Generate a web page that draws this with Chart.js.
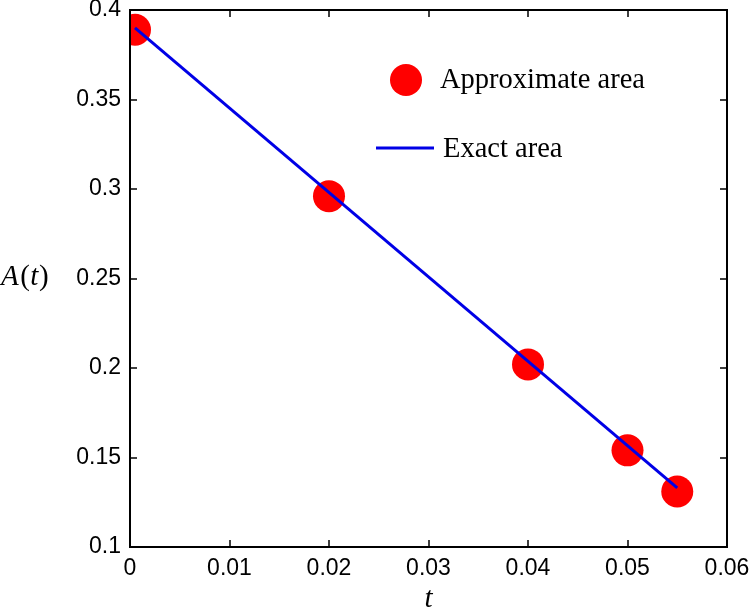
<!DOCTYPE html>
<html>
<head>
<meta charset="utf-8">
<script src="https://cdn.jsdelivr.net/npm/chart.js@4/dist/chart.umd.min.js"></script>
<style>
html,body{margin:0;padding:0;background:#fff;}
#wrap{width:751px;height:613px;}
</style>
</head>
<body>
<div id="wrap"><canvas id="c" width="751" height="613"></canvas></div>
<script>
// Data
const approxT = [0.0005, 0.02, 0.04, 0.05, 0.055];
const approxA = [0.389, 0.296, 0.202, 0.154, 0.131];
const exactT = [0.0005, 0.055];
const exactA = [0.390, 0.133];
const xTicks = [0, 0.01, 0.02, 0.03, 0.04, 0.05, 0.06];
const yTicks = [0.1, 0.15, 0.2, 0.25, 0.3, 0.35, 0.4];
const seriesNames = ['Approximate area', 'Exact area'];

const RED = '#ff0000';
const BLUE = '#0000e6';
const xTickFont = {family: 'Liberation Sans, Arial, sans-serif', size: 23};
const yTickFont = {family: 'Liberation Sans, Arial, sans-serif', size: 23, lineHeight: 0.8};

function fmt(v){ return String(parseFloat(v.toFixed(4))); }

const decor = {
  id: 'decor',
  afterDraw(chart) {
    const ctx = chart.ctx;
    const a = chart.chartArea;
    const xs = chart.scales.x, ys = chart.scales.y;
    ctx.save();
    // frame
    ctx.strokeStyle = '#000';
    ctx.lineWidth = 2;
    ctx.strokeRect(a.left, a.top, a.right - a.left, a.bottom - a.top);
    // inward ticks on all four sides
    const L = 7;
    ctx.lineWidth = 1.5;
    ctx.beginPath();
    xTicks.forEach(v => {
      const px = Math.round(xs.getPixelForValue(v));
      ctx.moveTo(px, a.bottom); ctx.lineTo(px, a.bottom - L);
      ctx.moveTo(px, a.top); ctx.lineTo(px, a.top + L);
    });
    yTicks.forEach(v => {
      const py = Math.round(ys.getPixelForValue(v));
      ctx.moveTo(a.left, py); ctx.lineTo(a.left + L, py);
      ctx.moveTo(a.right, py); ctx.lineTo(a.right - L, py);
    });
    ctx.stroke();

    // legend (inside plot)
    const ds0 = chart.data.datasets[0], ds1 = chart.data.datasets[1];
    ctx.fillStyle = ds0.pointBackgroundColor;
    ctx.beginPath();
    ctx.arc(406, 80, 16, 0, Math.PI * 2);
    ctx.fill();
    ctx.strokeStyle = ds1.borderColor;
    ctx.lineWidth = 3;
    ctx.beginPath();
    ctx.moveTo(376, 148); ctx.lineTo(434, 148);
    ctx.stroke();
    ctx.fillStyle = '#000';
    ctx.font = '28.5px "Liberation Serif", "Times New Roman", serif';
    ctx.textBaseline = 'middle';
    ctx.textAlign = 'left';
    ctx.fillText(ds0.label, 440, 81);
    ctx.fillText(ds1.label, 443, 150);

    // axis titles (math style)
    ctx.textBaseline = 'alphabetic';
    const it = 'italic 29px "Liberation Serif", "Times New Roman", serif';
    const up = '29px "Liberation Serif", "Times New Roman", serif';
    let x = 1, y = 285;
    const parts = [['A', it], ['(', up], ['t', it], [')', up]];
    parts.forEach(([s, f]) => {
      ctx.font = f;
      ctx.fillText(s, x, y);
      x += ctx.measureText(s).width + (s === 'A' ? 1.5 : 0.5);
    });
    ctx.font = it;
    ctx.textAlign = 'center';
    ctx.fillText('t', (a.left + a.right) / 2, 607);
    ctx.restore();
  }
};

new Chart(document.getElementById('c'), {
  type: 'scatter',
  data: {
    datasets: [
      {
        label: seriesNames[0],
        data: approxT.map((t, i) => ({x: t, y: approxA[i]})),
        pointBackgroundColor: RED,
        pointBorderColor: RED,
        backgroundColor: RED,
        pointRadius: 16,
        pointHoverRadius: 16,
        borderWidth: 0,
        showLine: false,
        order: 2
      },
      {
        label: seriesNames[1],
        data: exactT.map((t, i) => ({x: t, y: exactA[i]})),
        borderColor: BLUE,
        borderWidth: 3,
        pointRadius: 0,
        showLine: true,
        fill: false,
        order: 1
      }
    ]
  },
  options: {
    responsive: false,
    animation: false,
    events: [],
    layout: {autoPadding: false, padding: {top: 10, right: 24, left: 0, bottom: 0}},
    plugins: {legend: {display: false}, tooltip: {enabled: false}},
    scales: {
      x: {
        type: 'linear', min: 0, max: 0.06,
        afterBuildTicks: s => { s.ticks = xTicks.map(v => ({value: v})); },
        afterFit: s => { s.height = 66; s.paddingLeft = 0; s.paddingRight = 0; },
        grid: {display: false, drawTicks: false},
        border: {display: false},
        ticks: {color: '#000', font: xTickFont, padding: 8, maxRotation: 0, callback: v => fmt(v)}
      },
      y: {
        type: 'linear', min: 0.1, max: 0.4,
        afterBuildTicks: s => { s.ticks = yTicks.map(v => ({value: v})); },
        afterFit: s => { s.width = 130; s.paddingTop = 0; s.paddingBottom = 0; },
        grid: {display: false, drawTicks: false},
        border: {display: false},
        ticks: {color: '#000', font: yTickFont, padding: 9, callback: v => fmt(v)}
      }
    }
  },
  plugins: [decor]
});
</script>
</body>
</html>
